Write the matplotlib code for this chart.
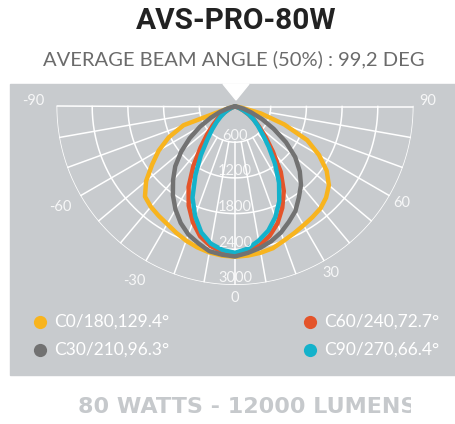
import numpy as np
import matplotlib
matplotlib.use("Agg")
import matplotlib.pyplot as plt
from matplotlib.patches import Rectangle, Polygon
from matplotlib.transforms import Bbox, TransformedBbox

# angoli 0..90 (gradi) e intensita' per ogni semipiano, destra (C0, C30...) e sinistra (C180, C210...)
angoli = list(range(0, 95, 5))
c0 =   [2525, 2515, 2495, 2465, 2400, 2350, 2305, 2270, 2235, 2165, 2060, 1880, 1630, 1340, 880, 450, 110, 20, 0]
c180 = [2525, 2515, 2490, 2450, 2400, 2340, 2280, 2240, 2200, 2140, 1950, 1700, 1480, 1230, 920, 120, 20, 0, 0]
c30 =  [2510, 2470, 2415, 2345, 2255, 2140, 2030, 1870, 1725, 1540, 1320, 1045, 750, 500, 290, 150, 50, 10, 0]
c210 = [2520, 2500, 2470, 2380, 2290, 2160, 2000, 1820, 1620, 1420, 1180, 930, 680, 450, 270, 130, 40, 10, 0]
c60 =  [2460, 2430, 2370, 2250, 2090, 1880, 1640, 1340, 990, 730, 530, 390, 260, 150, 70, 25, 5, 0, 0]
c240 = [2470, 2450, 2380, 2260, 2070, 1840, 1560, 1220, 900, 660, 480, 350, 230, 130, 60, 20, 5, 0, 0]
c90 =  [2450, 2400, 2290, 2160, 1980, 1760, 1480, 1170, 880, 650, 500, 380, 270, 160, 80, 30, 10, 0, 0]
c270 = [2460, 2420, 2340, 2190, 1960, 1690, 1330, 1000, 720, 540, 400, 290, 200, 120, 60, 20, 5, 0, 0]

etichette = ["C0/180,129.4°", "C30/210,96.3°", "C60/240,72.7°", "C90/270,66.4°"]
colori = ["#f8b41e", "#727272", "#e4542a", "#14b2cb"]
anelli = [600, 1200, 1800, 2400, 3000]
angoli_label = [-90, -60, -30, 0, 30, 60, 90]

W, H = 455, 424
fig = plt.figure(figsize=(W / 100, H / 100), dpi=100)
fig.patch.set_facecolor("white")

# sfondo / pannello
bg = fig.add_axes([0, 0, 1, 1])
bg.set_xlim(0, W)
bg.set_ylim(H, 0)
bg.axis("off")
bg.add_patch(Rectangle((10, 84), 445, 291, color="#c8cbce", zorder=0))
bg.add_patch(Polygon([[223, 84], [249, 84], [236, 100]], color="white", zorder=1))

# grafico polare
cx, cy, R = 235, 106.5, 178.5
ax = fig.add_axes([(cx - R) / W, (H - cy - R) / H, 2 * R / W, 2 * R / H], projection="polar")
ax.set_theta_zero_location("S")
ax.set_theta_direction(1)
ax.set_rlim(0, 3000)
ax.set_axis_off()
ax.patch.set_alpha(0)

t = np.radians(np.linspace(-90, 90, 361))
for r in anelli:
    ax.plot(t, [r] * len(t), color="white", lw=1.1, zorder=1)
for a in range(-80, 90, 10):
    ax.plot([np.radians(a)] * 2, [600, 3000], color="white", lw=1.1, zorder=1)
for a in (-90, 90):
    ax.plot([np.radians(a)] * 2, [0, 3000], color="white", lw=1.1, zorder=1)

serie = [(c0, c180), (c30, c210), (c60, c240), (c90, c270)]
ordine = [0, 2, 3, 1]
for i in ordine:
    destra, sinistra = serie[i]
    th = np.radians([-a for a in angoli[::-1]] + angoli[1:])
    rr = sinistra[::-1] + destra[1:]
    ax.plot(th, rr, color=colori[i], lw=3.2, solid_capstyle="round", solid_joinstyle="round", zorder=3)

lab_font = ["Lato", "DejaVu Sans"]
for r in anelli:
    ax.text(0, r - 110, str(r), ha="center", va="center", color="white", alpha=0.85,
            fontsize=10.5, family=lab_font, zorder=5)
for a in angoli_label:
    th = a + (1.5 if a == 90 else -1.5 if a == -90 else 0)
    rr = 3390 if a < 0 else 3240 if a > 0 else 3220
    ax.text(np.radians(th), rr, str(a), ha="center", va="center", color="white", alpha=0.85,
            fontsize=10.5, family=lab_font, zorder=5)

# legenda
pos = [(40, 322), (40, 350), (310, 322), (310, 350)]
for (x, y), lab, col in zip(pos, etichette, colori):
    bg.plot(x, y, "o", ms=9.5, color=col, mec="none", zorder=3)
    bg.text(x + 14, y, lab, ha="left", va="center", color="white", fontsize=12.5,
            family=lab_font, zorder=3)

# titoli
bg.text(236, 21, "AVS-PRO-80W", ha="center", va="center", fontsize=21.5, fontweight="bold",
        color="#222222", family=["Roboto", "DejaVu Sans"])
bg.text(234, 59, "AVERAGE BEAM ANGLE (50%) : 99,2 DEG", ha="center", va="center", fontsize=14.5,
        color="#6b6b6b", family=lab_font)

txt = bg.text(78, 407, "80 WATTS - 12000 LUMENS", ha="left", va="center", fontsize=16,
              fontweight="bold", color="#c6c9cc", family="DejaVu Sans")
txt.set_clip_on(True)
txt.set_clip_box(TransformedBbox(Bbox([[0, 0], [411, H]]), bg.transData))

fig.savefig("out.png", dpi=100)
